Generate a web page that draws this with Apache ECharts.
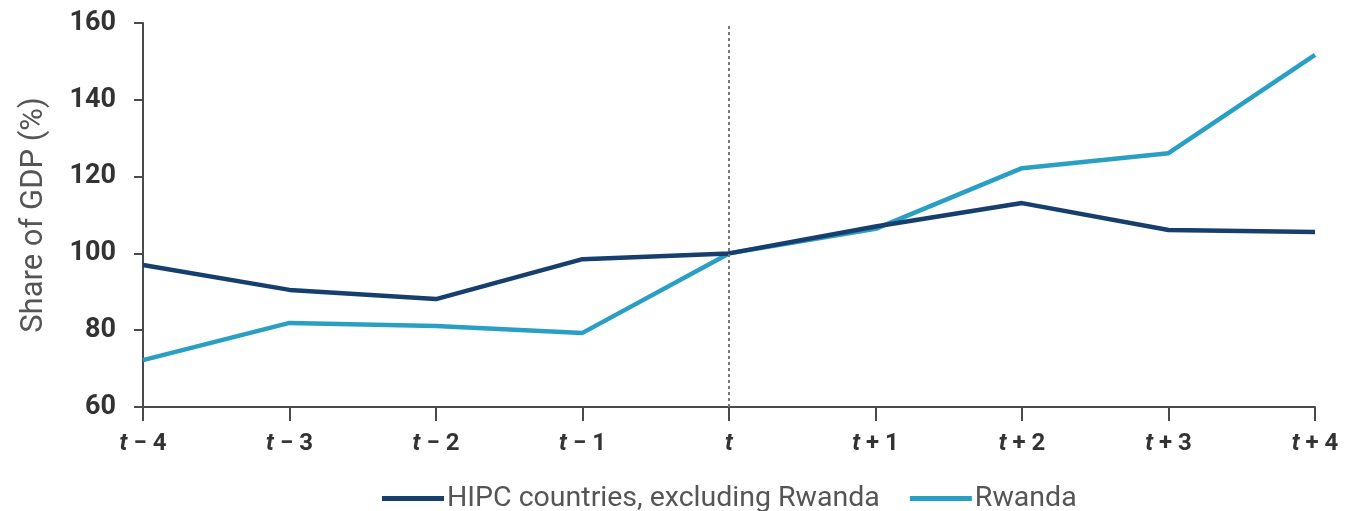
<!DOCTYPE html>
<html><head><meta charset="utf-8">
<script src="https://cdn.jsdelivr.net/npm/echarts@6/dist/echarts.min.js"></script>
<style>html,body{margin:0;padding:0;background:#fff}#c{width:1354px;height:511px}</style>
</head><body><div id="c"></div>
<script>
const categories = ['t−4','t−3','t−2','t−1','t','t+1','t+2','t+3','t+4'];
const tickLabels = ['{i|t} − 4','{i|t} − 3','{i|t} − 2','{i|t} − 1','{i|t}','{i|t} + 1','{i|t} + 2','{i|t} + 3','{i|t} + 4'];
const hipc = [97.0, 90.5, 88.1, 98.5, 100, 107.0, 113.1, 106.1, 105.6];
const rwanda = [72.2, 81.9, 81.1, 79.3, 100, 106.4, 122.2, 126.1, 151.7];
const seriesNames = ['HIPC countries, excluding Rwanda', 'Rwanda'];

const chart = echarts.init(document.getElementById('c'));
const axisColor = '#4a4a4a';
chart.setOption({
  animation: false,
  textStyle: {fontFamily: 'Roboto'},
  grid: {left: 143, right: 39, top: 23, bottom: 104},
  legend: {
    bottom: -7, left: 377, itemWidth: 62, itemHeight: 5, itemGap: 30,
    textStyle: {fontSize: 28.5, color: '#555', fontFamily: 'Roboto', padding: [0, 0, 0, -2]},
    data: seriesNames.map(n => ({name: n, icon: 'rect'}))
  },
  xAxis: {
    type: 'category', boundaryGap: false, data: categories,
    axisLine: {lineStyle: {color: axisColor, width: 2}},
    axisTick: {alignWithLabel: true, length: 14, lineStyle: {color: axisColor, width: 2}},
    axisLabel: {
      margin: 25, color: '#333', fontSize: 24, fontWeight: 'bold',
      formatter: (v, i) => tickLabels[i],
      rich: {i: {fontStyle: 'italic', fontWeight: 'bold', fontSize: 24, color: '#333'}}
    }
  },
  yAxis: {
    type: 'value', min: 60, max: 160, interval: 20,
    name: 'Share of GDP (%)', nameLocation: 'middle', nameGap: 93, nameRotate: 90,
    nameTextStyle: {fontSize: 31, color: '#555'},
    axisLine: {show: true, lineStyle: {color: axisColor, width: 2}},
    axisTick: {show: true, length: 9, lineStyle: {color: axisColor, width: 2}},
    splitLine: {show: false},
    axisLabel: {margin: 27, color: '#333', fontSize: 27, fontWeight: 'bold'}
  },
  series: [
    {name: seriesNames[0], type: 'line', data: hipc, symbol: 'none', z: 3,
     lineStyle: {color: '#173f6e', width: 4.5}, itemStyle: {color: '#173f6e'},
     markLine: {silent: true, symbol: 'none', label: {show: false},
       lineStyle: {color: '#777', type: [3, 3], width: 2},
       data: [{xAxis: 't'}]}},
    {name: seriesNames[1], type: 'line', data: rwanda, symbol: 'none', z: 2,
     lineStyle: {color: '#2a9fc4', width: 4.5}, itemStyle: {color: '#2a9fc4'}}
  ]
});
</script></body></html>
